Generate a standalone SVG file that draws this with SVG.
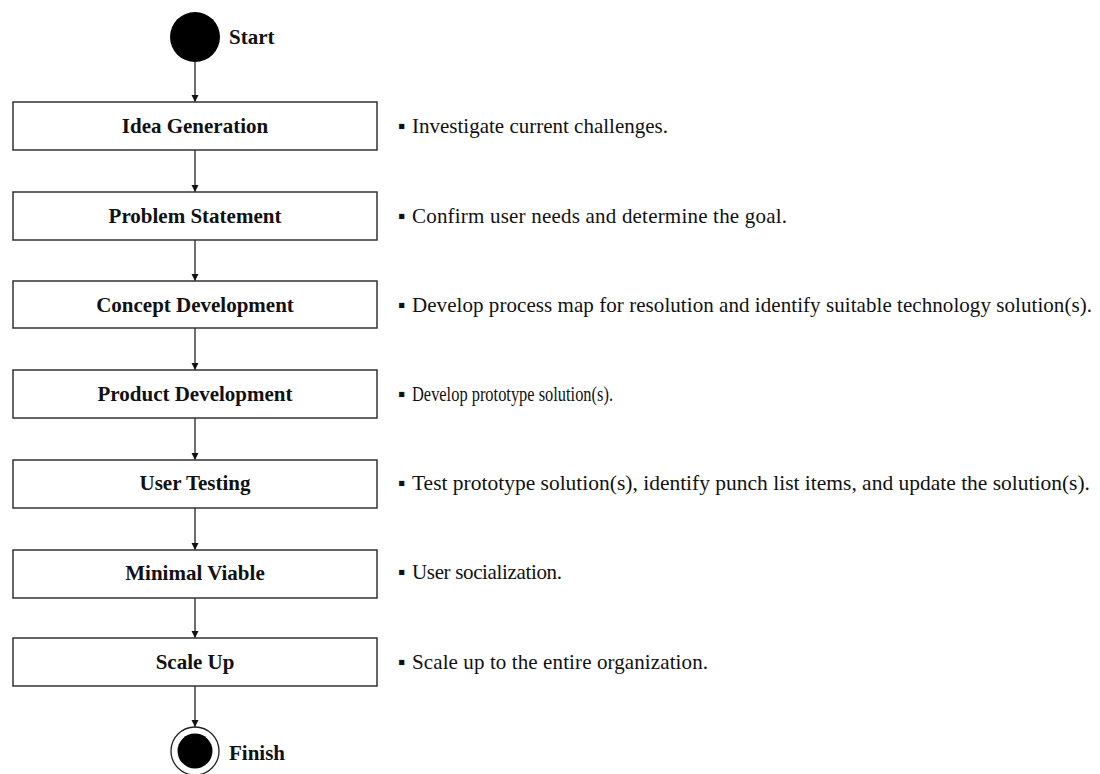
<svg xmlns="http://www.w3.org/2000/svg" width="1100" height="774" viewBox="0 0 1100 774">
<style>
.box{fill:#fff;stroke:#333;stroke-width:1.5}
.lbl{font-family:"Liberation Serif","Times New Roman",serif;font-weight:bold;font-size:21px;fill:#111;text-anchor:middle}
.term{font-family:"Liberation Serif","Times New Roman",serif;font-weight:bold;font-size:21px;fill:#111}
.desc{font-family:"Liberation Serif","Times New Roman",serif;font-size:21px;fill:#111}
.conn{stroke:#333;stroke-width:1.4;fill:none;marker-end:url(#ah)}
</style>
<defs>
<marker id="ah" viewBox="0 0 10 10" refX="10" refY="5" markerWidth="7" markerHeight="8" markerUnits="userSpaceOnUse" orient="auto">
<path d="M0,0 L10,5 L0,10 Z" fill="#111"/>
</marker>
</defs>
<rect width="1100" height="774" fill="#fff"/>
<g id="connectors">
<line class="conn" x1="195" y1="62" x2="195" y2="102"/>
<line class="conn" x1="195" y1="150" x2="195" y2="192"/>
<line class="conn" x1="195" y1="240" x2="195" y2="281"/>
<line class="conn" x1="195" y1="328" x2="195" y2="370"/>
<line class="conn" x1="195" y1="418" x2="195" y2="460"/>
<line class="conn" x1="195" y1="508" x2="195" y2="550"/>
<line class="conn" x1="195" y1="598" x2="195" y2="638"/>
<line class="conn" x1="195" y1="686" x2="195" y2="727"/>
</g>
<g id="start">
<circle cx="195" cy="37" r="25" fill="#000"/>
<text class="term" x="229" y="44">Start</text>
</g>
<g id="idea">
<rect class="box" x="13" y="102" width="364" height="48"/>
<text class="lbl" x="195" y="133">Idea Generation</text>
<text class="desc" y="133"><tspan x="398">▪</tspan><tspan x="412" textLength="256" lengthAdjust="spacing">Investigate current challenges.</tspan></text>
</g>
<g id="problem">
<rect class="box" x="13" y="192" width="364" height="48"/>
<text class="lbl" x="195" y="223">Problem Statement</text>
<text class="desc" y="223"><tspan x="398">▪</tspan><tspan x="412" textLength="375" lengthAdjust="spacing">Confirm user needs and determine the goal.</tspan></text>
</g>
<g id="concept">
<rect class="box" x="13" y="281" width="364" height="47"/>
<text class="lbl" x="195" y="312">Concept Development</text>
<text class="desc" y="312"><tspan x="398">▪</tspan><tspan x="412" textLength="680" lengthAdjust="spacing">Develop process map for resolution and identify suitable technology solution(s).</tspan></text>
</g>
<g id="product">
<rect class="box" x="13" y="370" width="364" height="48"/>
<text class="lbl" x="195" y="401">Product Development</text>
<text class="desc" y="401"><tspan x="398">▪</tspan><tspan x="412" textLength="201" lengthAdjust="spacingAndGlyphs">Develop prototype solution(s).</tspan></text>
</g>
<g id="testing">
<rect class="box" x="13" y="460" width="364" height="48"/>
<text class="lbl" x="195" y="490">User Testing</text>
<text class="desc" y="490"><tspan x="398">▪</tspan><tspan x="412" textLength="678" lengthAdjust="spacingAndGlyphs">Test prototype solution(s), identify punch list items, and update the solution(s).</tspan></text>
</g>
<g id="minimal">
<rect class="box" x="13" y="550" width="364" height="48"/>
<text class="lbl" x="195" y="580">Minimal Viable</text>
<text class="desc" y="579"><tspan x="398">▪</tspan><tspan x="412" textLength="150" lengthAdjust="spacing">User socialization.</tspan></text>
</g>
<g id="scaleup">
<rect class="box" x="13" y="638" width="364" height="48"/>
<text class="lbl" x="195" y="669">Scale Up</text>
<text class="desc" y="669"><tspan x="398">▪</tspan><tspan x="412" textLength="296" lengthAdjust="spacing">Scale up to the entire organization.</tspan></text>
</g>
<g id="finish">
<circle cx="195" cy="751" r="24" fill="#fff" stroke="#222" stroke-width="1.3"/>
<circle cx="195" cy="751" r="17.5" fill="#000"/>
<text class="term" x="229" y="760">Finish</text>
</g>
</svg>
